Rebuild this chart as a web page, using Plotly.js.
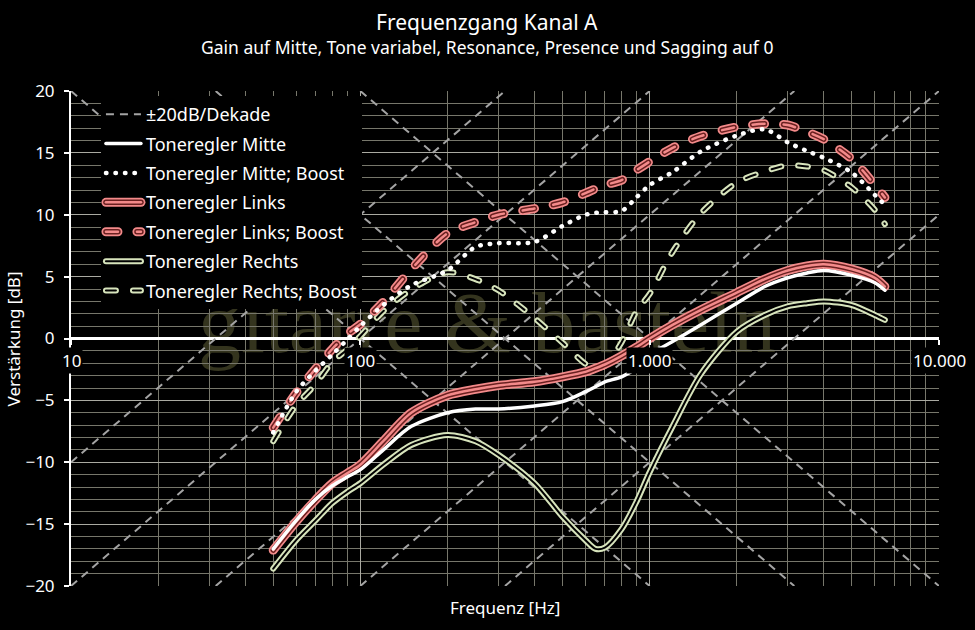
<!DOCTYPE html>
<html>
<head>
<meta charset="utf-8">
<script src="https://cdn.plot.ly/plotly-3.0.1.min.js"></script>
<style>
html,body{margin:0;padding:0;background:#000;overflow:hidden;}
#wm{position:absolute;left:0;top:0;z-index:0;}
#chart{position:absolute;left:0;top:0;width:975px;height:630px;z-index:1;}
.scatterlayer .trace + .trace path.js-line{stroke-linecap:round;stroke-linejoin:round;}
</style>
</head>
<body>
<svg id="wm" width="975" height="630"><text x="487" y="352" text-anchor="middle" font-family="Liberation Serif, DejaVu Serif, serif" font-size="86" fill="#34341e">gitarre &amp; basteln</text></svg>
<div id="chart"></div>
<script>
// ---- data ----
const freq = [50,60,70,80,90,100,120,150,200,250,300,400,500,600,650,700,800,900,1000,1200,1500,2000,2500,3000,3500,4000,5000,6000,6500];
const toneMitte      = [-17.0,-14.7,-13.0,-11.9,-11.2,-10.6,-9.0,-7.1,-6.0,-5.7,-5.7,-5.45,-5.1,-4.3,-3.9,-3.5,-3.1,-2.4,-1.3,-0.25,1.1,2.85,4.2,4.9,5.3,5.5,5.1,4.5,3.9];
const toneMitteBoost = [-7.6,-4.3,-2.6,-1.3,-0.1,1.0,2.7,4.3,5.5,7.4,7.7,7.8,9.1,10.0,10.15,10.2,10.3,11.4,12.4,13.45,15.1,16.4,16.9,15.85,15.15,14.6,13.4,11.6,10.8];
const toneLinks      = [-17.1,-14.8,-13.05,-11.7,-10.9,-10.2,-8.3,-6.0,-4.6,-4.1,-3.8,-3.5,-3.1,-2.7,-2.4,-2.1,-1.4,-0.7,0.0,1.1,2.3,3.7,4.8,5.5,5.86,6.0,5.6,4.9,4.2];
const toneLinksBoost = [-7.2,-4.4,-2.45,-0.85,0.35,1.15,2.95,5.6,8.5,9.4,10.0,10.5,11.0,11.75,12.1,12.4,12.8,13.6,14.3,15.4,16.35,17.1,17.35,17.25,16.7,16.1,14.5,12.4,11.4];
const toneRechts     = [-18.6,-16.3,-14.7,-13.3,-12.4,-11.7,-10.2,-8.6,-7.8,-8.3,-9.4,-11.7,-14.4,-16.3,-17.0,-16.9,-15.4,-13.2,-10.8,-7.1,-2.9,0.55,1.9,2.6,2.85,3.0,2.7,1.9,1.5];
const toneRechtsBoost= [-8.3,-5.4,-3.7,-1.9,-0.9,0.2,2.2,3.95,5.35,4.8,3.9,1.65,-0.35,-2.05,-2.4,-2.2,-0.3,2.2,3.6,7.0,10.1,12.6,13.5,14.0,13.9,13.6,12.2,10.4,9.25];

// ±20 dB/decade guide lines: level (dB) at 10 Hz
const riseOffsets = [-10,-20,-30,-40,-50];
const fallOffsets = [20,30,40];

const tickVals = [10,100,1000,10000];
const tickText = ['10','100','1.000','10.000'];

const FONT = 'Noto Sans, Open Sans, DejaVu Sans, sans-serif';
const PINK = '#f38a8a', PINKDARK = '#6a2020', GREEN = '#d7e4bc';

// ---- guide lines built from the ±20 dB/decade definition ----
const gx = [], gy = [];
function addGuide(c, slope){
  let l0, l1;
  if (slope > 0){ l0 = Math.max(1, 1 + (-20 - c)/slope); l1 = Math.min(4, 1 + (20 - c)/slope); }
  else { l0 = Math.max(1, 1 + (20 - c)/slope); l1 = Math.min(4, 1 + (-20 - c)/slope); }
  if (l1 <= l0) return;
  gx.push(Math.pow(10,l0), Math.pow(10,l1), null);
  gy.push(c + slope*(l0-1), c + slope*(l1-1), null);
}
riseOffsets.forEach(c => addGuide(c, 20));
fallOffsets.forEach(c => addGuide(c, -20));

const series = [
  {name:'Toneregler Mitte', y:toneMitte, rank:2, dash:'solid', layers:[{c:'#ffffff', w:3.5}]},
  {name:'Toneregler Mitte; Boost', y:toneMitteBoost, rank:3, dash:'0.5px,9px', layers:[{c:'#ffffff', w:4.5}]},
  {name:'Toneregler Links', y:toneLinks, rank:4, dash:'solid', layers:[{c:PINK, w:9},{c:PINKDARK, w:5.5},{c:PINK, w:2.5}]},
  {name:'Toneregler Links; Boost', y:toneLinksBoost, rank:5, dash:'12px,19px', layers:[{c:PINK, w:9},{c:PINKDARK, w:5.5},{c:PINK, w:2.5}]},
  {name:'Toneregler Rechts', y:toneRechts, rank:6, dash:'solid', layers:[{c:GREEN, w:6},{c:'#000000', w:2}]},
  {name:'Toneregler Rechts; Boost', y:toneRechtsBoost, rank:7, dash:'10px,17px', layers:[{c:GREEN, w:6},{c:'#000000', w:2}]}
];
// drawing order (later on top)
const drawOrder = [4,5,2,3,0,1];

const data = [{
  x: gx, y: gy, type:'scatter', mode:'lines', name:'±20dB/Dekade',
  line:{color:'#a4a4a4', width:2, dash:'8px,6px'}, connectgaps:false,
  legendgroup:'g0', legendrank:1, hoverinfo:'skip'
}];
drawOrder.forEach(i => {
  const s = series[i];
  s.layers.forEach((L, k) => {
    data.push({
      x: freq, y: s.y, type:'scatter', mode:'lines', name:s.name,
      line:{color:L.c, width:L.w, dash:s.dash, shape:'spline', smoothing:0.8},
      legendgroup:'g'+s.rank, legendrank:s.rank, showlegend:(k===0), hoverinfo:'skip'
    });
  });
});

const MAJ = '#aaaaa2', MIN = '#77776b';
const annotations = [
  {text:'Frequenzgang Kanal A', xref:'paper', yref:'paper', x:0.4798, y:1.1394, xanchor:'center', yanchor:'middle', showarrow:false, font:{size:21, color:'#fff', family:FONT}},
  {text:'Gain auf Mitte, Tone variabel, Resonance, Presence und Sagging auf 0', xref:'paper', yref:'paper', x:0.4798, y:1.0889, xanchor:'center', yanchor:'middle', showarrow:false, font:{size:17.5, color:'#fff', family:FONT}},
  {text:'Frequenz [Hz]', xref:'paper', yref:'paper', x:0.5, y:-0.0444, xanchor:'center', yanchor:'middle', showarrow:false, font:{size:17, color:'#fff', family:FONT}},
  {text:'Verstärkung [dB]', xref:'paper', yref:'paper', x:-0.0657, y:0.5, xanchor:'center', yanchor:'middle', textangle:-90, showarrow:false, font:{size:17, color:'#fff', family:FONT}}
];
tickVals.forEach((v,i) => annotations.push({
  text:tickText[i], xref:'x', yref:'y', x:Math.log10(v), y:0, yshift:-22, xanchor:'center', yanchor:'middle',
  showarrow:false, bgcolor:'#000', borderpad:1, font:{size:17, color:'#fff', family:FONT}
}));

const layout = {
  width:975, height:630,
  margin:{l:71, r:36, t:91, b:44, pad:0},
  paper_bgcolor:'rgba(0,0,0,0)', plot_bgcolor:'rgba(0,0,0,0)',
  font:{family:FONT, color:'#fff', size:17},
  showlegend:true,
  legend:{x:0.0345, y:0.99, xanchor:'left', yanchor:'top', bgcolor:'#000', borderwidth:0,
          font:{family:FONT, size:18, color:'#fff'}, tracegroupgap:3, itemwidth:35},
  xaxis:{type:'log', range:[1,4], dtick:1, showgrid:true, gridcolor:MAJ, gridwidth:1.2,
         zeroline:false, showline:false, ticks:'outside', ticklen:5, tickwidth:2, tickcolor:'#fff',
         showticklabels:false, anchor:'free', position:0.5,
         minor:{dtick:'D1', showgrid:true, gridcolor:MIN, gridwidth:1, ticks:''}},
  yaxis:{range:[-20,20], dtick:5, tick0:0, showgrid:true, gridcolor:MAJ, gridwidth:1.2,
         zeroline:true, zerolinecolor:'#ffffff', zerolinewidth:2.5,
         showline:true, linecolor:'#ffffff', linewidth:2,
         ticks:'outside', ticklen:5, tickwidth:2, tickcolor:'#fff', ticklabelstandoff:6,
         tickfont:{size:17, color:'#fff', family:FONT},
         minor:{dtick:1, showgrid:true, gridcolor:MIN, gridwidth:1, ticks:''}},
  annotations:annotations
};

Plotly.newPlot('chart', data, layout, {staticPlot:true, displayModeBar:false}).then(() => {
  // compound line samples in the legend
  document.querySelectorAll('.legend .traces').forEach(g => {
    const t = g.querySelector('.legendtext');
    if (!t) return;
    const s = series.find(q => q.name === t.textContent);
    if (!s) return;
    const p = g.querySelector('.legendlines path');
    if (!p) return;
    p.style.strokeLinecap = 'round';
    for (let k = 1; k < s.layers.length; k++){
      const c = p.cloneNode(true);
      c.style.stroke = s.layers[k].c;
      c.style.strokeWidth = s.layers[k].w + 'px';
      c.style.strokeLinecap = 'round';
      p.parentNode.appendChild(c);
    }
  });
});
</script>
</body>
</html>
